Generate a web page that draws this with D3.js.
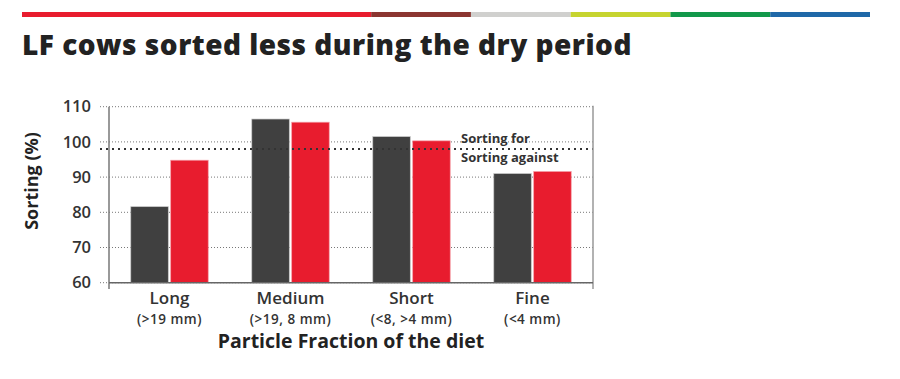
<!DOCTYPE html>
<html><head><meta charset="utf-8">
<script src="https://cdn.jsdelivr.net/npm/d3@7"></script>
<style>body{margin:0;background:#fff}svg{display:block}</style>
</head><body><svg id="c" width="900" height="379"></svg>
<script>
const categories = ["Long","Medium","Short","Fine"];
const subLabels = ["(>19 mm)","(>19, 8 mm)","(<8, >4 mm)","(<4 mm)"];
const seriesNames = ["Dark","Red"];
const darkValues = [81.6, 106.5, 101.5, 91.0];
const redValues = [94.8, 105.6, 100.3, 91.6];
const yTicks = [60,70,80,90,100,110];
const threshold = 98;
const stripeColors = ["#e81c2e","#8b3530","#d0d0ce","#c6d42f","#12984a","#1f68a8"];
const stripeWeights = [3.5,1,1,1,1,1];

const svg = d3.select("#c");
const font = "'Open Sans', sans-serif";
const txt = "#333";

// top stripe
const sx = d3.scaleLinear().domain([0, d3.sum(stripeWeights)]).range([22, 870]);
let acc = 0;
stripeColors.forEach((c,i)=>{
  svg.append("rect").attr("x", sx(acc)).attr("y", 12).attr("width", sx(acc+stripeWeights[i]) - sx(acc)).attr("height", 5).attr("fill", c);
  acc += stripeWeights[i];
});

svg.append("text").attr("x",22).attr("y",55).attr("font-family",font).attr("font-weight",800)
  .attr("font-size",28).attr("letter-spacing",0.6).attr("fill","#222")
  .attr("textLength",610).attr("lengthAdjust","spacing")
  .text("LF cows sorted less during the dry period");

const L=109, R=593, T=106.7, B=282.7;
const y = d3.scaleLinear().domain([60,110]).range([B,T]);
const x0 = d3.scaleBand().domain(categories).range([L,R]).paddingInner(0.36).paddingOuter(0.18);
const x1 = d3.scaleBand().domain(seriesNames).range([0,x0.bandwidth()]).paddingInner(0.06);

// grid
svg.append("g").selectAll("line").data(yTicks).join("line")
  .attr("x1",100).attr("x2",R).attr("y1",d=>y(d)).attr("y2",d=>y(d))
  .attr("stroke","#777").attr("stroke-width",1).attr("stroke-dasharray","1,2");

// y tick labels
svg.append("g").selectAll("text").data(yTicks).join("text")
  .attr("x",91).attr("y",d=>y(d)).attr("dy","0.35em").attr("text-anchor","end")
  .attr("font-family",font).attr("font-weight",600).attr("font-size",16.5).attr("fill",txt).text(d=>d);

// bars
const data = categories.map((c,i)=>({c, vals:[darkValues[i], redValues[i]]}));
const colors = {Dark:"#404040", Red:"#e81c2e"};
const strokes = {Dark:"#c8c8c8", Red:"#f4a0a8"};
svg.append("g").selectAll("g").data(data).join("g")
  .attr("transform",d=>`translate(${x0(d.c)},0)`)
  .selectAll("rect").data(d=>seriesNames.map((s,j)=>({s,v:d.vals[j]}))).join("rect")
  .attr("x",d=>x1(d.s)).attr("width",x1.bandwidth())
  .attr("y",d=>y(d.v)).attr("height",d=>B-y(d.v))
  .attr("fill",d=>colors[d.s]).attr("stroke",d=>strokes[d.s]).attr("stroke-width",0.7);

// threshold
svg.append("line").attr("x1",100).attr("x2",R).attr("y1",y(threshold)).attr("y2",y(threshold))
  .attr("stroke","#333").attr("stroke-width",2).attr("stroke-dasharray","2,4");
svg.append("text").attr("x",461).attr("y",y(threshold)-6).attr("font-family",font).attr("font-weight",700)
  .attr("font-size",13).attr("fill",txt).text("Sorting for");
svg.append("text").attr("x",461).attr("y",y(threshold)+13).attr("font-family",font).attr("font-weight",700)
  .attr("font-size",13).attr("fill",txt).text("Sorting against");

// axes
svg.append("line").attr("x1",L).attr("x2",L).attr("y1",T).attr("y2",289).attr("stroke","#777").attr("stroke-width",1.5);
svg.append("line").attr("x1",R).attr("x2",R).attr("y1",T-1).attr("y2",289).attr("stroke","#999").attr("stroke-width",1.5);
svg.append("line").attr("x1",L).attr("x2",R).attr("y1",B).attr("y2",B).attr("stroke","#666").attr("stroke-width",1.5);

// category labels
const cx = c => x0(c)+x0.bandwidth()/2;
svg.append("g").selectAll("text").data(categories).join("text")
  .attr("x",d=>cx(d)).attr("y",303.5).attr("text-anchor","middle").attr("font-family",font)
  .attr("font-weight",600).attr("font-size",17).attr("fill",txt).text(d=>d);
svg.append("g").selectAll("text").data(categories).join("text")
  .attr("x",d=>cx(d)).attr("y",324).attr("text-anchor","middle").attr("font-family",font)
  .attr("font-weight",600).attr("font-size",13.5).attr("letter-spacing",0.5).attr("fill",txt).text((d,i)=>subLabels[i]);

svg.append("text").attr("x",351).attr("y",348).attr("text-anchor","middle").attr("font-family",font)
  .attr("font-weight",700).attr("font-size",19.5).attr("fill","#222").text("Particle Fraction of the diet");

svg.append("text").attr("transform","translate(38,181) rotate(-90)").attr("text-anchor","middle")
  .attr("font-family",font).attr("font-weight",700).attr("font-size",18).attr("fill","#222").text("Sorting (%)");
</script></body></html>
